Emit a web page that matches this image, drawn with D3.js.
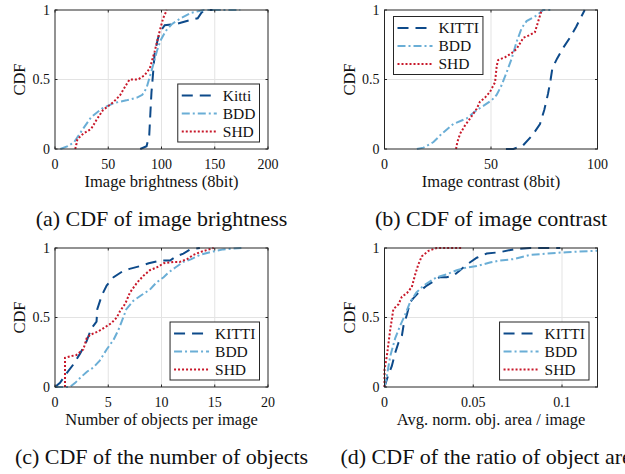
<!DOCTYPE html>
<html lang="en">
<head>
<meta charset="utf-8">
<title>CDF panels</title>
<script src="https://d3js.org/d3.v7.min.js"></script>
<style>
  body { margin: 0; background: white; }
  svg { display: block; }
  text { font-family: "Liberation Serif", "Times New Roman", serif; fill: #111; }
  .tick-label { font-size: 14px; }
  .axis-label { font-size: 16.5px; }
  .legend-text { font-size: 15.5px; }
  .caption { font-size: 22px; }
</style>
</head>
<body>
<svg id="chart" width="625" height="474"></svg>
<script>
// ---- data ----
// (a) image brightness
const brightKittiX = [80, 86, 88.5, 89.5, 90.6, 91.5, 93.5, 96.5, 98.5, 103, 114, 128, 134, 137.5, 140.5, 157];
const brightKittiY = [0, 0.02, 0.1, 0.25, 0.41, 0.49, 0.68, 0.79, 0.84, 0.89, 0.9, 0.93, 0.94, 0.98, 1, 1];
const brightBddX = [5, 12, 18, 25, 34, 44, 55, 67, 77, 82, 86, 89, 92, 95.5, 99, 104, 110, 118, 128, 140, 174];
const brightBddY = [0, 0.02, 0.05, 0.13, 0.23, 0.29, 0.33, 0.35, 0.37, 0.39, 0.44, 0.52, 0.6, 0.7, 0.78, 0.85, 0.9, 0.94, 0.98, 1, 1];
const brightShdX = [19, 20, 21, 26.5, 34, 39, 45, 54.5, 61, 65.5, 70, 78, 84, 89, 93.5, 98, 101.5, 105];
const brightShdY = [0, 0.03, 0.07, 0.11, 0.145, 0.21, 0.28, 0.335, 0.385, 0.445, 0.5, 0.5, 0.53, 0.58, 0.7, 0.84, 0.94, 1];

// (b) image contrast
const contrKittiX = [57, 60.5, 65, 69.5, 73, 75, 76.8, 78, 78.8, 81, 84, 87, 90, 94];
const contrKittiY = [0, 0, 0.025, 0.1, 0.18, 0.28, 0.4, 0.5, 0.58, 0.65, 0.73, 0.8, 0.88, 1];
const contrBddX = [15.2, 18.3, 23, 26.9, 32.3, 38.6, 43.3, 46.4, 50.3, 52.7, 55, 57.3, 59.7, 62, 64.4, 66.7, 71.4, 74.5, 78.4];
const contrBddY = [0, 0.01, 0.05, 0.11, 0.18, 0.22, 0.28, 0.31, 0.35, 0.39, 0.46, 0.55, 0.65, 0.77, 0.87, 0.92, 0.96, 1, 1];
const contrShdX = [33.6, 34.2, 35.5, 37.8, 40.2, 43.3, 44.8, 47.2, 49.5, 51.9, 52.7, 53.4, 56.6, 59.7, 62, 63.6, 65.2, 68.3, 70.6, 72.2, 73.8];
const contrShdY = [0, 0.05, 0.11, 0.17, 0.22, 0.29, 0.34, 0.37, 0.41, 0.48, 0.6, 0.64, 0.66, 0.69, 0.72, 0.76, 0.8, 0.82, 0.84, 0.92, 1];

// (c) number of objects per image
const objKittiX = [0, 0.47, 1.1, 1.7, 2.35, 2.97, 3.4, 3.9, 3.97, 4.4, 4.85, 5.5, 6.3, 7.0, 8.0, 8.8, 9.9, 10.8, 11.4, 12.05, 12.7, 13.6];
const objKittiY = [0, 0.03, 0.1, 0.16, 0.24, 0.33, 0.42, 0.47, 0.56, 0.66, 0.73, 0.79, 0.83, 0.85, 0.87, 0.89, 0.91, 0.91, 0.94, 0.96, 0.99, 1];
const objBddX = [0, 1.4, 1.9, 2.35, 3.0, 3.6, 4.2, 4.85, 5.5, 5.95, 6.26, 6.7, 7.35, 8.1, 8.9, 9.5, 10.2, 10.6, 11.3, 12.05, 12.8, 13.6, 14.55, 15.8, 17.5];
const objBddY = [0, 0, 0.03, 0.065, 0.11, 0.14, 0.19, 0.27, 0.34, 0.41, 0.47, 0.56, 0.62, 0.66, 0.7, 0.75, 0.79, 0.82, 0.86, 0.9, 0.92, 0.95, 0.97, 0.99, 1];
const objShdX = [0.94, 0.94, 1.4, 2.0, 2.66, 2.97, 3.3, 4.07, 4.7, 5.3, 5.8, 6.1, 6.6, 7.04, 7.7, 8.3, 8.9, 9.55, 10.2, 11.1, 11.7, 12.4, 13, 13.6, 14.9];
const objShdY = [0, 0.21, 0.22, 0.23, 0.27, 0.35, 0.375, 0.4, 0.43, 0.46, 0.5, 0.545, 0.6, 0.68, 0.75, 0.8, 0.84, 0.86, 0.89, 0.9, 0.9, 0.92, 0.95, 0.97, 1];

// (d) avg. normalised object area per image
const areaKittiX = [0, 0.0019, 0.0041, 0.006, 0.0079, 0.0098, 0.0107, 0.0126, 0.0144, 0.0163, 0.02, 0.0238, 0.0276, 0.031, 0.035, 0.0388, 0.0426, 0.0463, 0.052, 0.0576, 0.065, 0.0726, 0.082, 0.099];
const areaKittiY = [0, 0.077, 0.15, 0.245, 0.32, 0.37, 0.44, 0.52, 0.61, 0.64, 0.69, 0.73, 0.76, 0.79, 0.79, 0.8, 0.84, 0.88, 0.93, 0.96, 0.97, 0.99, 1, 1];
const areaBddX = [0, 0.0013, 0.0032, 0.006, 0.0088, 0.0116, 0.0144, 0.018, 0.022, 0.0257, 0.0294, 0.035, 0.0407, 0.0463, 0.052, 0.0594, 0.065, 0.0726, 0.082, 0.0913, 0.1026, 0.12];
const areaBddY = [0, 0.077, 0.22, 0.35, 0.44, 0.52, 0.61, 0.68, 0.73, 0.76, 0.79, 0.81, 0.84, 0.86, 0.87, 0.895, 0.91, 0.92, 0.95, 0.96, 0.97, 0.98];
const areaShdX = [0, 0, 0.0013, 0.0023, 0.0032, 0.005, 0.0079, 0.0098, 0.0126, 0.0154, 0.0173, 0.019, 0.021, 0.0248, 0.0294, 0.0435];
const areaShdY = [0, 0.125, 0.22, 0.32, 0.41, 0.56, 0.595, 0.65, 0.675, 0.72, 0.81, 0.88, 0.94, 0.98, 1, 1];

const yTicks = [0, 0.5, 1];
const xTicksBright = [0, 50, 100, 150, 200];
const xTicksContr = [0, 50, 100];
const xTicksObj = [0, 5, 10, 15, 20];
const xTicksArea = [0, 0.05, 0.1];

const xLabels = ["Image brightness (8bit)", "Image contrast (8bit)", "Number of objects per image", "Avg. norm. obj. area / image"];
const captions = ["(a) CDF of image brightness", "(b) CDF of image contrast", "(c) CDF of the number of objects", "(d) CDF of the ratio of object area"];
const seriesNames = ["KITTI", "BDD", "SHD"];

// series styling
const colors = ["#0d4a8a", "#6aaed6", "#c8182a"];
const dashes = ["11,7", "8,3,2,3", "2,2"];

const svg = d3.select("#chart");

// panel layout
const panels = [
  { left: 55, top: 10, xDomain: [0, 200], xTicks: xTicksBright,
    series: [[brightKittiX, brightKittiY], [brightBddX, brightBddY], [brightShdX, brightShdY]],
    names: ["Kitti", "BDD", "SHD"], legend: "br" },
  { left: 384.5, top: 10, xDomain: [0, 100], xTicks: xTicksContr,
    series: [[contrKittiX, contrKittiY], [contrBddX, contrBddY], [contrShdX, contrShdY]],
    names: seriesNames, legend: "tl" },
  { left: 55, top: 248, xDomain: [0, 20], xTicks: xTicksObj,
    series: [[objKittiX, objKittiY], [objBddX, objBddY], [objShdX, objShdY]],
    names: seriesNames, legend: "br" },
  { left: 384.5, top: 248, xDomain: [0, 0.12], xTicks: xTicksArea,
    series: [[areaKittiX, areaKittiY], [areaBddX, areaBddY], [areaShdX, areaShdY]],
    names: seriesNames, legend: "br" }
];
const pw = 213, ph = 139;

panels.forEach((p, pi) => {
  const g = svg.append("g").attr("transform", `translate(${p.left},${p.top})`);
  const x = d3.scaleLinear().domain(p.xDomain).range([0, pw]);
  const y = d3.scaleLinear().domain([0, 1]).range([ph, 0]);

  // grid
  g.selectAll(".vgrid").data(p.xTicks.slice(1, -1).concat(p.xDomain[1] > p.xTicks[p.xTicks.length - 1] ? [p.xTicks[p.xTicks.length - 1]] : []))
    .enter().append("line")
    .attr("x1", d => x(d)).attr("x2", d => x(d))
    .attr("y1", 0).attr("y2", ph)
    .style("stroke", "#e3e3e3").style("stroke-width", 1);
  g.append("line")
    .attr("x1", 0).attr("x2", pw).attr("y1", y(0.5)).attr("y2", y(0.5))
    .style("stroke", "#e3e3e3").style("stroke-width", 1);

  // curves
  const line = d3.line().x(d => x(d[0])).y(d => y(d[1]));
  p.series.forEach((s, si) => {
    const pts = d3.zip(s[0], s[1]);
    g.append("path")
      .datum(pts)
      .attr("d", line)
      .style("fill", "none")
      .style("stroke", colors[si])
      .style("stroke-width", 2)
      .style("stroke-dasharray", dashes[si]);
  });

  // inward ticks on all sides
  p.xTicks.forEach(t => {
    g.append("line").attr("x1", x(t)).attr("x2", x(t)).attr("y1", ph).attr("y2", ph - 2.5).style("stroke", "#262626");
    g.append("line").attr("x1", x(t)).attr("x2", x(t)).attr("y1", 0).attr("y2", 2.5).style("stroke", "#262626");
  });
  yTicks.forEach(t => {
    g.append("line").attr("x1", 0).attr("x2", 2.5).attr("y1", y(t)).attr("y2", y(t)).style("stroke", "#262626");
    g.append("line").attr("x1", pw).attr("x2", pw - 2.5).attr("y1", y(t)).attr("y2", y(t)).style("stroke", "#262626");
  });

  // frame
  g.append("rect")
    .attr("x", 0).attr("y", 0).attr("width", pw).attr("height", ph)
    .style("fill", "none").style("stroke", "#262626").style("stroke-width", 1);

  // tick labels
  g.selectAll(".xt").data(p.xTicks).enter().append("text")
    .attr("class", "tick-label")
    .attr("x", d => x(d)).attr("y", ph + 19.5)
    .attr("text-anchor", "middle")
    .text(d => d3.format("~g")(d));
  g.selectAll(".yt").data(yTicks).enter().append("text")
    .attr("class", "tick-label")
    .attr("x", -5).attr("y", d => y(d)).attr("dy", "0.35em")
    .attr("text-anchor", "end")
    .text(d => d3.format("~g")(d));

  // axis labels
  g.append("text").attr("class", "axis-label")
    .attr("x", pw / 2).attr("y", ph + 38)
    .attr("text-anchor", "middle").text(xLabels[pi]);
  g.append("text").attr("class", "axis-label")
    .attr("transform", `translate(-30,${ph / 2}) rotate(-90)`)
    .attr("text-anchor", "middle").text("CDF");

  // caption
  g.append("text").attr("class", "caption")
    .attr("x", pw / 2).attr("y", ph + 77)
    .attr("text-anchor", "middle").text(captions[pi]);

  // legend
  const lg = g.append("g");
  const box = lg.append("rect").style("fill", "white").style("stroke", "#262626").style("stroke-width", 1);
  const rows = [11.5, 29.5, 47.5];
  let maxW = 0;
  p.names.forEach((n, i) => {
    lg.append("line")
      .attr("x1", 4).attr("x2", 39).attr("y1", rows[i]).attr("y2", rows[i])
      .style("stroke", colors[i]).style("stroke-width", 2)
      .style("stroke-dasharray", dashes[i]);
    const t = lg.append("text").attr("class", "legend-text")
      .attr("x", 45).attr("y", rows[i]).attr("dy", "0.35em").text(n);
    maxW = Math.max(maxW, t.node().getComputedTextLength());
  });
  const bw = 45 + maxW + 4, bh = 58;
  box.attr("x", 0).attr("y", 0).attr("width", bw).attr("height", bh);
  if (p.legend === "br") lg.attr("transform", `translate(${pw - 8.5 - bw},${ph - 7 - bh})`);
  else lg.attr("transform", `translate(9,6.5)`);
});
</script>
</body>
</html>
